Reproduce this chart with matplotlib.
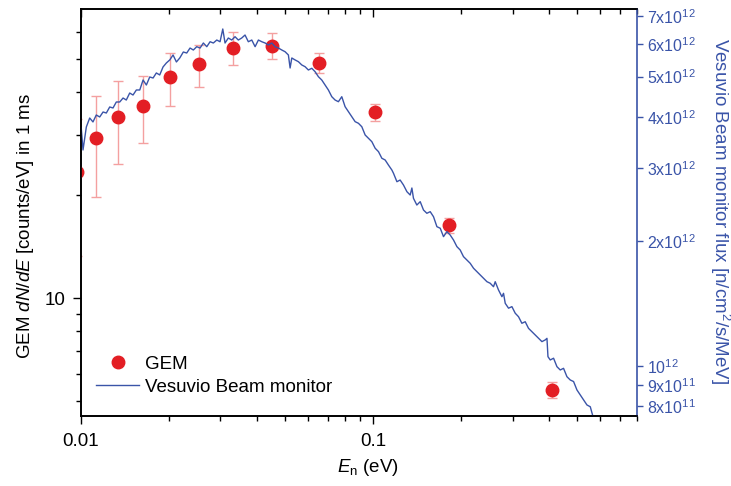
import numpy as np
import matplotlib
matplotlib.use("Agg")
import matplotlib.pyplot as plt
from matplotlib.lines import Line2D
from matplotlib.ticker import FixedLocator, FixedFormatter, NullFormatter, FuncFormatter, LogLocator

plt.rcParams['font.family'] = 'Liberation Sans'
plt.rcParams['mathtext.fontset'] = 'custom'
plt.rcParams['mathtext.rm'] = 'Liberation Sans'
plt.rcParams['mathtext.it'] = 'Liberation Sans:italic'
plt.rcParams['mathtext.bf'] = 'Liberation Sans:bold'

# ---------------------------------------------------------------
# GEM spectrum (dN/dE in 1 ms)
# ---------------------------------------------------------------
gem_energy = [0.0097, 0.01128, 0.01342, 0.0163, 0.02017, 0.02541,
              0.03324, 0.0451, 0.06517, 0.1018, 0.1817, 0.4093]
gem_dnde = [23.3, 29.3, 33.9, 36.5, 44.2, 48.2, 53.9, 54.7, 48.8, 34.9, 16.3, 5.39]
gem_err = [10.0, 9.6, 9.2, 8.2, 7.8, 6.7, 5.9, 4.7, 3.2, 2.0, 0.8, 0.28]

# ---------------------------------------------------------------
# Vesuvio beam monitor flux, in units of 1e12 n/cm2/s/MeV
# ---------------------------------------------------------------
monitor_energy = [
    0.01002, 0.01016, 0.01043, 0.01071, 0.01099, 0.01128, 0.01159, 0.01190, 0.01221, 0.01254,
    0.01287, 0.01321, 0.01357, 0.01393, 0.01429, 0.01468, 0.01507, 0.01547, 0.01589, 0.01631,
    0.01674, 0.01719, 0.01765, 0.01811, 0.01860, 0.01909, 0.01960, 0.02013, 0.02066, 0.02121,
    0.02178, 0.02240, 0.02301, 0.02362, 0.02424, 0.02490, 0.02556, 0.02623, 0.02695, 0.02766,
    0.02838, 0.02916, 0.02992, 0.03057, 0.03112, 0.03194, 0.03281, 0.03367, 0.03456, 0.03549,
    0.03643, 0.03739, 0.03842, 0.03944, 0.04048, 0.04158, 0.04268, 0.04380, 0.04499, 0.04617,
    0.04739, 0.04868, 0.04995, 0.05127, 0.05197, 0.05267, 0.05406, 0.05548, 0.05698, 0.05848,
    0.06002, 0.06166, 0.06328, 0.06495, 0.06670, 0.06846, 0.07027, 0.07218, 0.07408, 0.07604,
    0.07810, 0.08016, 0.08228, 0.08453, 0.08676, 0.08905, 0.09145, 0.09389, 0.09636, 0.09897,
    0.1016, 0.1043, 0.1071, 0.1099, 0.1128, 0.1159, 0.1174, 0.1206, 0.1237, 0.1270,
    0.1305, 0.1339, 0.1357, 0.1374, 0.1411, 0.1449, 0.1487, 0.1527, 0.1568, 0.1609,
    0.1653, 0.1697, 0.1741, 0.1788, 0.1835, 0.1884, 0.1935, 0.1986, 0.2038, 0.2094,
    0.2149, 0.2206, 0.2266, 0.2325, 0.2387, 0.2452, 0.2516, 0.2582, 0.2617, 0.2686,
    0.2759, 0.2794, 0.2832, 0.2907, 0.2985, 0.3064, 0.3145, 0.3229, 0.3315, 0.3402,
    0.3495, 0.3587, 0.3682, 0.3782, 0.3882, 0.3935, 0.3966, 0.4038, 0.4145, 0.4257,
    0.4369, 0.4484, 0.4606, 0.4728, 0.4853, 0.4984, 0.5116, 0.5251, 0.5393, 0.5536,
    0.5637,
]
monitor_flux = [
    3.758, 3.325, 3.779, 3.972, 3.886, 4.039, 3.995, 4.107, 4.084, 4.223,
    4.200, 4.342, 4.342, 4.439, 4.390, 4.564, 4.514, 4.642, 4.642, 4.907,
    4.772, 4.990, 4.962, 5.103, 5.047, 5.276, 5.395, 5.486, 5.640, 5.425,
    5.546, 5.734, 5.702, 5.862, 5.798, 5.906, 5.862, 6.028, 5.906, 6.071,
    6.028, 6.129, 6.071, 6.517, 6.028, 6.198, 6.129, 6.243, 6.129, 6.198,
    6.302, 6.071, 6.129, 5.906, 6.129, 6.071, 6.028, 5.963, 6.028, 5.906,
    5.862, 5.798, 5.743, 5.640, 5.246, 5.546, 5.486, 5.433, 5.335, 5.284,
    5.188, 5.237, 5.139, 4.998, 4.907, 4.772, 4.642, 4.472, 4.390, 4.349,
    4.472, 4.230, 4.115, 4.002, 3.892, 3.857, 3.784, 3.614, 3.548, 3.482,
    3.357, 3.294, 3.175, 3.145, 3.058, 2.974, 2.920, 2.787, 2.813, 2.736,
    2.636, 2.588, 2.691, 2.541, 2.448, 2.494, 2.381, 2.338, 2.359, 2.294,
    2.170, 2.151, 2.053, 2.111, 2.072, 2.015, 1.942, 1.906, 1.837, 1.803,
    1.770, 1.722, 1.690, 1.659, 1.629, 1.598, 1.584, 1.554, 1.598, 1.526,
    1.470, 1.498, 1.417, 1.379, 1.391, 1.341, 1.315, 1.268, 1.279, 1.233,
    1.210, 1.188, 1.166, 1.145, 1.156, 1.166, 1.053, 1.034, 1.044, 0.996,
    0.978, 0.987, 0.942, 0.925, 0.917, 0.875, 0.851, 0.828, 0.805, 0.797,
    0.761,
]

# right axis ticks
flux_ticks = [8e11, 9e11, 1e12, 2e12, 3e12, 4e12, 5e12, 6e12, 7e12]
flux_tick_labels = ['8x10$^{11}$', '9x10$^{11}$', '10$^{12}$', '2x10$^{12}$', '3x10$^{12}$',
                    '4x10$^{12}$', '5x10$^{12}$', '6x10$^{12}$', '7x10$^{12}$']

red = '#e31e24'
pink = '#f4a0a0'
blue = '#3a54a8'
fs = 13.5

fig = plt.figure(figsize=(7.31, 4.86), dpi=100)
ax = fig.add_axes([0.1108, 0.144, 0.7606, 0.8368])
ax2 = ax.twinx()

# GEM points with error bars
ax.errorbar(gem_energy, gem_dnde, yerr=gem_err, fmt='none', ecolor=pink,
            elinewidth=1, capsize=3.5, capthick=1, zorder=2)
ax.plot(gem_energy, gem_dnde, 'o', color=red, markersize=9, zorder=3)

# beam monitor on the right axis
flux = np.array(monitor_flux) * 1e12
ax2.plot(monitor_energy, flux, color=blue, linewidth=1.0)

ax.set_xscale('log')
ax.set_yscale('log')
ax2.set_yscale('log')
ax.set_xlim(0.01, 0.8)
ax.set_ylim(4.52, 69.8)
ax2.set_ylim(0.757e12, 7.27e12)

# left axis: only 10 labelled
ax.yaxis.set_major_locator(LogLocator(base=10))
ax.yaxis.set_major_formatter(FuncFormatter(lambda v, p: '%g' % v))
ax.yaxis.set_minor_formatter(NullFormatter())
ax.xaxis.set_major_formatter(FuncFormatter(lambda v, p: '%g' % v))
ax.xaxis.set_minor_formatter(NullFormatter())

ax.tick_params(axis='both', which='both', labelsize=fs, width=1, color='black')
ax.tick_params(axis='y', which='major', length=6, direction='out', pad=5)
ax.tick_params(axis='y', which='minor', length=3.5, direction='out')
ax.tick_params(axis='x', which='major', length=6, direction='out', pad=6, top=True)
ax.tick_params(axis='x', which='minor', length=3.5, direction='out', top=True)
# top ticks point inward
for t in ax.xaxis.get_major_ticks() + ax.xaxis.get_minor_ticks():
    t.tick2line.set_marker(3)

ax2.yaxis.set_major_locator(FixedLocator(flux_ticks))
ax2.yaxis.set_major_formatter(FixedFormatter(flux_tick_labels))
ax2.yaxis.set_minor_locator(FixedLocator([]))
ax2.tick_params(axis='y', which='major', length=4, width=1, colors=blue,
                labelsize=11.5, direction='out')

for s in ['left', 'bottom', 'top']:
    ax.spines[s].set_linewidth(1.2)
    ax2.spines[s].set_linewidth(1.2)
ax2.spines['right'].set_color(blue)
ax2.spines['right'].set_linewidth(1.2)
ax.spines['right'].set_visible(False)

ax.set_xlabel(r'$E$$_{\mathrm{n}}$ (eV)', fontsize=fs)
ax.xaxis.set_label_coords(0.516, -0.1)
ax.set_ylabel(r'GEM $dN$/$dE$ [counts/eV] in 1 ms', fontsize=fs)
ax.yaxis.set_label_coords(-0.081, 0.467)
ax2.set_ylabel('Vesuvio Beam monitor flux [n/cm$^{2}$/s/MeV]', fontsize=fs,
               color=blue, rotation=270, va='bottom')
ax2.yaxis.set_label_coords(1.128, 0.504)

handles = [Line2D([], [], marker='o', linestyle='none', color=red, markersize=9),
           Line2D([], [], color=blue, linewidth=1.0)]
ax2.legend(handles, ['GEM', 'Vesuvio Beam monitor'], loc='lower left',
           bbox_to_anchor=(0.013, 0.032), frameon=False, borderaxespad=0,
           handlelength=2.33, handletextpad=0.3, labelspacing=0.3, fontsize=fs)

fig.savefig('out.png', dpi=100)
